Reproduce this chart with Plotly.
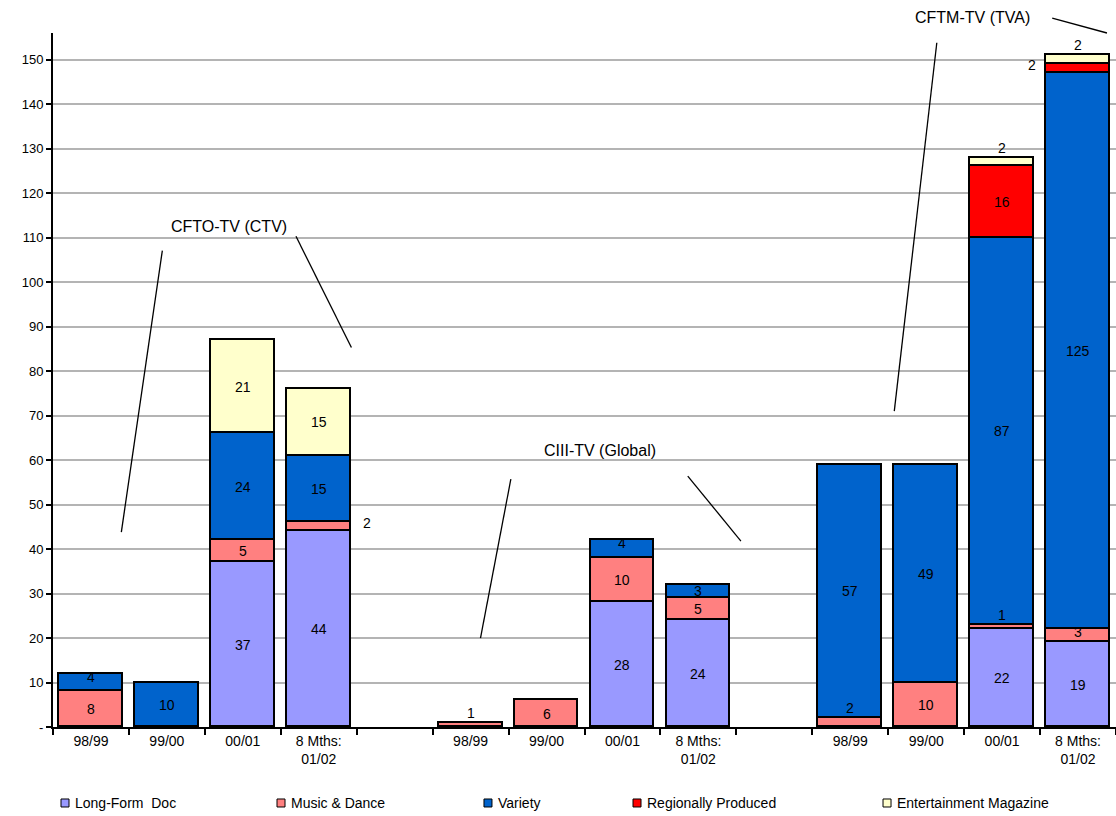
import plotly.graph_objects as go

# Stations and periods
stations = ["CFTO-TV (CTV)", "CIII-TV (Global)", "CFTM-TV (TVA)"]
periods = ["98/99", "99/00", "00/01", "8 Mths:<br>01/02"]

# Hours per category, 4 periods per station, stations in order above
long_form_doc = [0, 0, 37, 44, 0, 0, 28, 24, 0, 0, 22, 19]
music_dance = [8, 0, 5, 2, 1, 6, 10, 5, 2, 10, 1, 3]
variety = [4, 10, 24, 15, 0, 0, 4, 3, 57, 49, 87, 125]
regional = [0, 0, 0, 0, 0, 0, 0, 0, 0, 0, 16, 2]
ent_magazine = [0, 0, 21, 15, 0, 0, 0, 0, 0, 0, 2, 2]

series = [
    ("Long-Form  Doc", long_form_doc, "#9999FF"),
    ("Music & Dance", music_dance, "#FF8080"),
    ("Variety", variety, "#0063CC"),
    ("Regionally Produced", regional, "#FF0000"),
    ("Entertainment Magazine", ent_magazine, "#FFFFCC"),
]

# one empty slot between stations
xpos = [g * 5 + i for g in range(len(stations)) for i in range(len(periods))]
xlabels = periods * len(stations)

FONT = "Arial, Liberation Sans, sans-serif"
BAR_W = 0.84

fig = go.Figure()
for name, vals, color in series:
    fig.add_trace(go.Bar(
        x=xpos, y=vals, name=name, width=BAR_W,
        marker=dict(color=color, line=dict(color="black", width=1.8)),
        showlegend=False,
    ))
fig.update_layout(barmode="stack")

# where small segment labels go (bar index, series index) -> placement
placement = {
    (3, 1): "right",
    (4, 1): "above",
    (8, 1): "above",
    (10, 1): "above",
    (10, 4): "above",
    (11, 3): "left",
    (11, 4): "above",
    (11, 1): "top",
    (0, 2): "top",
    (6, 2): "top",
}

label_font = dict(family=FONT, size=14, color="black")
annotations = []
for b, x in enumerate(xpos):
    base = 0
    for s, (name, vals, color) in enumerate(series):
        v = vals[b]
        if v <= 0:
            continue
        mid = base + v / 2
        top = base + v
        mode = placement.get((b, s), "center")
        a = dict(x=x, y=mid, text=str(v), showarrow=False, font=label_font)
        if mode == "above":
            a.update(y=top, yanchor="bottom", yshift=0)
        elif mode == "right":
            a.update(x=x + BAR_W / 2, xanchor="left", xshift=10, yshift=4)
        elif mode == "left":
            a.update(x=x - BAR_W / 2, xanchor="right", xshift=-8, yshift=4)
        elif mode == "top":
            a.update(y=top, yshift=-3)
        annotations.append(a)
        base = top

# station captions with leader lines
title_font = dict(family=FONT, size=16, color="black")
annotations += [
    dict(x=1.82, y=112.5, text=stations[0], showarrow=False, font=title_font),
    dict(x=6.71, y=62.2, text=stations[1], showarrow=False, font=title_font),
    dict(x=0.865, y=1.023, xref="paper", yref="paper", xanchor="center",
         yanchor="middle", text=stations[2], showarrow=False, font=title_font),
]
line_style = dict(color="black", width=1.3)
shapes = [
    dict(type="line", x0=0.94, y0=107.1, x1=0.40, y1=43.8, line=line_style),
    dict(type="line", x0=2.70, y0=110.3, x1=3.43, y1=85.3, line=line_style),
    dict(type="line", x0=5.53, y0=55.7, x1=5.13, y1=20.0, line=line_style),
    dict(type="line", x0=7.86, y0=56.4, x1=8.56, y1=41.8, line=line_style),
    dict(type="line", x0=11.14, y0=153.8, x1=10.58, y1=71.0, line=line_style),
    dict(type="line", xref="paper", yref="paper", x0=0.94, y0=1.0216,
         x1=0.9915, y1=1.0, line=line_style),
]

# legend row below the axis
legend_x = [0.0113, 0.2145, 0.4092, 0.5494, 0.7846]
sq_w, sq_h = 8 / 1063, 8 / 694
leg_y = -0.1095
for lx, (name, vals, color) in zip(legend_x, series):
    shapes.append(dict(type="rect", xref="paper", yref="paper",
                       x0=lx - sq_w / 2, x1=lx + sq_w / 2,
                       y0=leg_y - sq_h / 2, y1=leg_y + sq_h / 2,
                       fillcolor=color, line=dict(color="black", width=1)))
    annotations.append(dict(xref="paper", yref="paper", x=lx + sq_w, y=leg_y,
                            xanchor="left", yanchor="middle", text=name,
                            showarrow=False,
                            font=dict(family=FONT, size=14, color="black")))

yt = list(range(0, 160, 10))
fig.update_layout(
    width=1116, height=816,
    margin=dict(l=53, r=0, t=33, b=89),
    paper_bgcolor="white", plot_bgcolor="white",
    font=dict(family=FONT, size=13, color="black"),
    bargap=0,
    annotations=annotations,
    shapes=shapes,
    xaxis=dict(
        range=[-0.5, 13.5], tickmode="array", tickvals=xpos, ticktext=xlabels,
        ticks="", showgrid=False, zeroline=False,
        showline=True, linecolor="black", linewidth=2,
        tickfont=dict(family=FONT, size=14),
        minor=dict(tickmode="array", tickvals=[i - 0.5 for i in range(15)],
                   ticks="outside", ticklen=6, tickwidth=2, tickcolor="black",
                   showgrid=False),
    ),
    yaxis=dict(
        range=[0, 156], tickmode="array", tickvals=yt,
        ticktext=["-"] + [str(v) for v in yt[1:]],
        ticks="outside", ticklen=5, tickwidth=2, tickcolor="black",
        showgrid=True, gridcolor="#b4b4b4", gridwidth=2,
        zeroline=False, showline=True, linecolor="black", linewidth=2,
        tickfont=dict(family=FONT, size=13),
    ),
)

fig.write_html("out.html")
